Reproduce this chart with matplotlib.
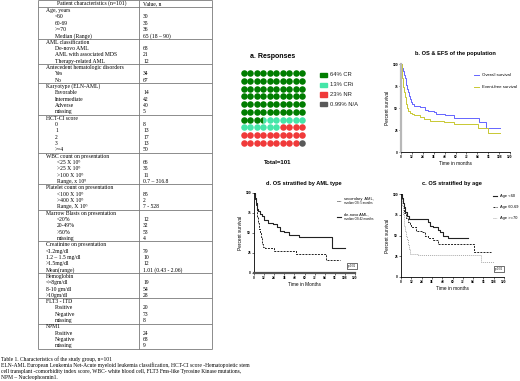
import numpy as np
import matplotlib
matplotlib.use("Agg")
from matplotlib import pyplot as plt

plt.rcParams['font.family'] = ['Liberation Sans', 'DejaVu Sans']

# ---- table data ----
tbl_header = ["Patient characteristics (n=101)", "Value, n"]
tbl_groups = ["Age, years", "AML classification", "Antecedent hematologic disorders",
              "Karyotype (ELN-AML)", "HCT-CI score", "WBC count on presentation",
              "Platelet count on presentation", "Marrow Blasts on presentation",
              "Creatinine on presentation", "Hemoglobin", "FLT3 - ITD", "NPM1"]
tbl_labels = [["<60", "60-69", ">=70", "Median (Range)"],
              ["De-novo AML", "AML with associated MDS", "Therapy-related AML"],
              ["Yes", "No"],
              ["Favorable", "Intermediate", "Adverse", "missing"],
              ["0", "1", "2", "3", ">=4"],
              ["<25 X 10⁹", ">25 X 10⁹", ">100 X 10⁹", "Range, x 10⁹"],
              ["<100 X 10⁹", ">400 X 10⁹", "Range, X 10⁹"],
              ["<20%", "20-49%", ">50%", "missing"],
              ["<1.2mg/dl", "1.2 – 1.5 mg/dl", ">1.5mg/dl", "Mean(range)"],
              ["<=8gm/dl", "8-10 gm/dl", ">10gm/dl"],
              ["Positive", "Negative", "missing"],
              ["Positive", "Negative", "missing"]]
tbl_values = [["30", "35", "36", "65 (18 – 90)"],
              ["68", "21", "12"],
              ["34", "67"],
              ["14", "42", "40", "5"],
              ["8", "13", "17", "13", "50"],
              ["66", "35", "11", "0.7 – 316.8"],
              ["85", "2", "7 - 528"],
              ["12", "32", "53", "4"],
              ["79", "10", "12", "1.01 (0.43 - 2.06)"],
              ["19", "54", "28"],
              ["20", "73", "8"],
              ["24", "68", "9"]]
tbl_indent = [55, 55, 55, 55, 55, 57, 57, 57, 46, 46, 55, 55]
caption = ["Table 1. Characteristics of the study group, n=101",
           "ELN-AML European Leukemia Net-Acute myeloid leukemia classification, HCT-CI score -Hematopoietic stem",
           "cell transplant -comorbidity index score, WBC- white blood cell, FLT3 Fms-like Tyrosine Kinase mutations,",
           "NPM – Nucleophosmin1."]

# ---- waffle data ----
resp_labels = ["64% CR", "13% CRi", "23% NR", "0.99% N/A"]
resp_counts = [64, 13, 23, 1]
resp_colors = ["#007d00", "#44e6a8", "#f03a3a", "#595959"]

# ---- survival data (months, percent) ----
os_t = [0, 1, 2, 3, 4, 5, 6, 7, 8, 9, 10, 11, 12, 14, 21, 26, 30, 36, 39, 48, 58, 86, 94, 109]
os_s = [100, 96, 92, 88, 84, 80, 76, 72, 68, 64, 60, 57, 55, 52, 51, 48, 47, 45, 43, 42, 39, 34, 27, 27]
efs_t = [0, 1, 2, 3, 4, 5, 6, 7, 8, 10, 12, 14, 21, 25, 32, 47, 58, 85, 96, 109]
efs_s = [100, 84, 74, 68, 63, 58, 54, 50, 47, 44, 43, 42, 40, 37, 35, 34, 31.5, 27, 22, 22]

denovo_t = [0, 1, 2, 3, 4, 5, 7, 9, 12, 17, 23, 27, 31, 36, 42, 54, 93, 108]
denovo_s = [100, 94, 88, 84, 80, 77, 74, 71, 66, 62, 61, 57, 53, 51, 47, 45, 31, 31]
second_t = [0, 1, 2, 3, 4, 5, 6, 7, 8, 9, 10, 11, 13, 24, 50, 85, 102]
second_s = [100, 92, 84, 77, 70, 62, 55, 50, 45, 40, 36, 33, 31, 27, 24, 16, 16]

age1_t = [0, 1, 2, 3, 5, 7, 9, 30, 32, 34, 37, 43, 45, 49, 55, 78]
age1_s = [100, 95, 89, 84, 78, 73, 70, 70, 66, 62, 60, 57, 54, 50, 47, 47]
age2_t = [0, 1, 2, 3, 4, 6, 8, 10, 12, 18, 24, 28, 32, 37, 43, 85, 105]
age2_s = [100, 94, 89, 83, 77, 71, 66, 63, 60, 56, 54, 50, 47, 45, 40, 30, 30]
age3_t = [0, 1, 2, 3, 4, 5, 6, 7, 8, 9, 11, 20, 93, 108]
age3_s = [100, 85, 76, 68, 62, 56, 50, 44, 38, 34, 28, 26, 18, 18]

W, H = 520, 381
fig = plt.figure(figsize=(W / 100, H / 100), dpi=100)

# overlay axes in pixel units for table, captions and titles
ov = fig.add_axes([0, 0, 1, 1])
ov.set_xlim(0, W)
ov.set_ylim(H, 0)
ov.axis('off')

serif = ['Liberation Serif', 'DejaVu Serif']
tfs = 4.1
lc = '#7a7a7a'
tx0, tx1, tdiv = 38, 212, 139
line_h = 6.33
y = 7.0
ov.text(92, 3.6, tbl_header[0], family=serif, fontsize=tfs, ha='center', va='center')
ov.text(143, 3.6, tbl_header[1], family=serif, fontsize=tfs, ha='left', va='center')
seps = [0.3, y]
for g, name in enumerate(tbl_groups):
    ov.text(46, y + line_h * 0.55, name, family=serif, fontsize=tfs, va='center')
    for i, (lab, val) in enumerate(zip(tbl_labels[g], tbl_values[g])):
        yy = y + line_h * (i + 1.55)
        ov.text(tbl_indent[g], yy, lab, family=serif, fontsize=tfs, va='center')
        ov.text(143, yy, val, family=serif, fontsize=tfs, va='center')
    y += line_h * (len(tbl_labels[g]) + 1)
    seps.append(y)
ov.hlines(seps, tx0, tx1, color=lc, lw=0.6)
ov.vlines([tx0, tdiv, tx1], 0.3, seps[-1], color=lc, lw=0.6)
for i, c in enumerate(caption):
    ov.text(1, 359 + 6 * i, c, family=serif, fontsize=4.0, va='center')

# ---- a. waffle ----
fig.text(273 / W, 1 - 57 / H, "a. Responses", fontsize=5.0, fontweight='bold', ha='center', va='center')
fig.text(278 / W, 1 - 163 / H, "Total=101", fontsize=4.3, fontweight='bold', ha='center', va='center')
axw = fig.add_axes([240.8 / W, 1 - 146.9 / H, 64.4 / W, 77.8 / H])
axw.set_xlim(-0.5, 9.5)
axw.set_ylim(9.5, -0.5)
axw.axis('off')
bounds = np.cumsum([0] + resp_counts)
step = bounds[-1] / 100.0
for k in range(100):
    r, c = divmod(k, 10)
    lo, hi = k * step, (k + 1) * step
    share = [max(0, min(hi, bounds[j + 1]) - max(lo, bounds[j])) / step for j in range(4)]
    order = np.argsort(share)[::-1]
    if share[order[1]] > 0.3:
        a, b = sorted(order[:2])
        axw.plot([c], [r], 'o', ms=4.7, mew=0, fillstyle='left',
                 markerfacecolor=resp_colors[a], markerfacecoloralt=resp_colors[b])
    else:
        axw.plot([c], [r], 'o', ms=4.7, mew=0, color=resp_colors[order[0]])
for i, (lab, col) in enumerate(zip(resp_labels, resp_colors)):
    yy = 75 + 9.7 * i
    ov.add_patch(plt.Rectangle((319.5, yy - 2.2), 7, 4.4, color=col))
    ov.text(330, yy, lab, fontsize=4.2, va='center', color='#222222')


def style_axes(ax, xlabel):
    ax.set_xlim(0, 120)
    ax.set_ylim(0, 100)
    ax.set_xticks(range(0, 121, 12))
    ax.set_yticks([0, 25, 50, 75, 100])
    ax.tick_params(labelsize=2.3, length=1.3, width=0.4, pad=0.8)
    for lb in ax.get_xticklabels() + ax.get_yticklabels():
        lb.set_fontweight('bold')
    for s in ['top', 'right']:
        ax.spines[s].set_visible(False)
    for s in ['left', 'bottom']:
        ax.spines[s].set_linewidth(0.6)
    ax.set_xlabel(xlabel, fontsize=3.4, labelpad=1.5)
    ax.set_ylabel("Percent survival", fontsize=3.4, labelpad=2)
    ax.patch.set_alpha(0)


# ---- b. OS & EFS ----
fig.text(455 / W, 1 - 54 / H, "b. OS & EFS of the population", fontsize=4.1, fontweight='bold', ha='center', va='center')
axb = fig.add_axes([401 / W, 1 - 152 / H, 109 / W, 88 / H])
axb.step(os_t, os_s, where='post', color='#6464ff', lw=0.7)
axb.step(efs_t, efs_s, where='post', color='#c8c832', lw=0.7)
style_axes(axb, "Time in months")
axb.spines['left'].set_color('#b8b8b8')
axb.spines['left'].set_linewidth(1.6)
ov.plot([474, 479], [75, 75], color='#6464ff', lw=0.7)
ov.text(482, 75, "Overall survival", fontsize=3.1, va='center')
ov.plot([474, 479], [87, 87], color='#c8c832', lw=0.7)
ov.text(482, 87, "Event-free survival", fontsize=3.1, va='center')

# ---- d. OS by AML type ----
fig.text(304 / W, 1 - 184 / H, "d. OS stratified by AML type", fontsize=4.1, fontweight='bold', ha='center', va='center')
axd = fig.add_axes([254 / W, 1 - 273 / H, 101 / W, 80 / H])
axd.step(second_t, second_s, where='post', color='#222222', lw=0.7, ls=(0, (2, 1.2)))
axd.step(denovo_t, denovo_s, where='post', color='#222222', lw=0.8)
style_axes(axd, "Time in Months")
axd.spines['bottom'].set_color('#555555')
axd.spines['bottom'].set_linewidth(1.6)
axd.text(0.97, 0.09, "p<0.01", transform=axd.transAxes, fontsize=1.9, ha='center', va='center',
         bbox=dict(boxstyle='square,pad=0.4', fc='white', ec='black', lw=0.4))
ov.plot([337, 341], [201, 201], color='#222222', lw=0.7, ls=(0, (1, 1)))
ov.text(344, 199, "secondary  AML,", fontsize=2.9, va='center')
ov.text(344, 203.5, "median OS: 5 months", fontsize=2.1, va='center')
ov.plot([337, 341], [217, 217], color='#222222', lw=0.8)
ov.text(344, 215, "de-novo AML,", fontsize=2.9, va='center')
ov.text(344, 219.5, "median OS 42 months", fontsize=2.1, va='center')

# ---- c. OS by age ----
fig.text(452 / W, 1 - 184 / H, "c. OS stratified by age", fontsize=4.1, fontweight='bold', ha='center', va='center')
axc = fig.add_axes([401 / W, 1 - 277 / H, 103 / W, 83 / H])
axc.step(age3_t, age3_s, where='post', color='#aaaaaa', lw=0.7, ls=(0, (1, 1)))
axc.step(age2_t, age2_s, where='post', color='#222222', lw=0.7, ls=(0, (2, 1.2)))
axc.step(age1_t, age1_s, where='post', color='#222222', lw=0.8)
style_axes(axc, "Time in months")
axc.text(0.95, 0.1, "p<0.02", transform=axc.transAxes, fontsize=1.9, ha='center', va='center',
         bbox=dict(boxstyle='square,pad=0.4', fc='white', ec='black', lw=0.4))
ov.plot([493, 497], [196, 196], color='#222222', lw=0.8)
ov.text(500, 196, "Age <60", fontsize=2.9, va='center')
ov.plot([493, 497], [207, 207], color='#222222', lw=0.7, ls=(0, (2, 1.2)))
ov.text(500, 207, "Age 60-69", fontsize=2.9, va='center')
ov.plot([493, 497], [218, 218], color='#aaaaaa', lw=0.7, ls=(0, (1, 1)))
ov.text(500, 218, "Age >=70", fontsize=2.9, va='center')

fig.savefig("out.png", dpi=100)
